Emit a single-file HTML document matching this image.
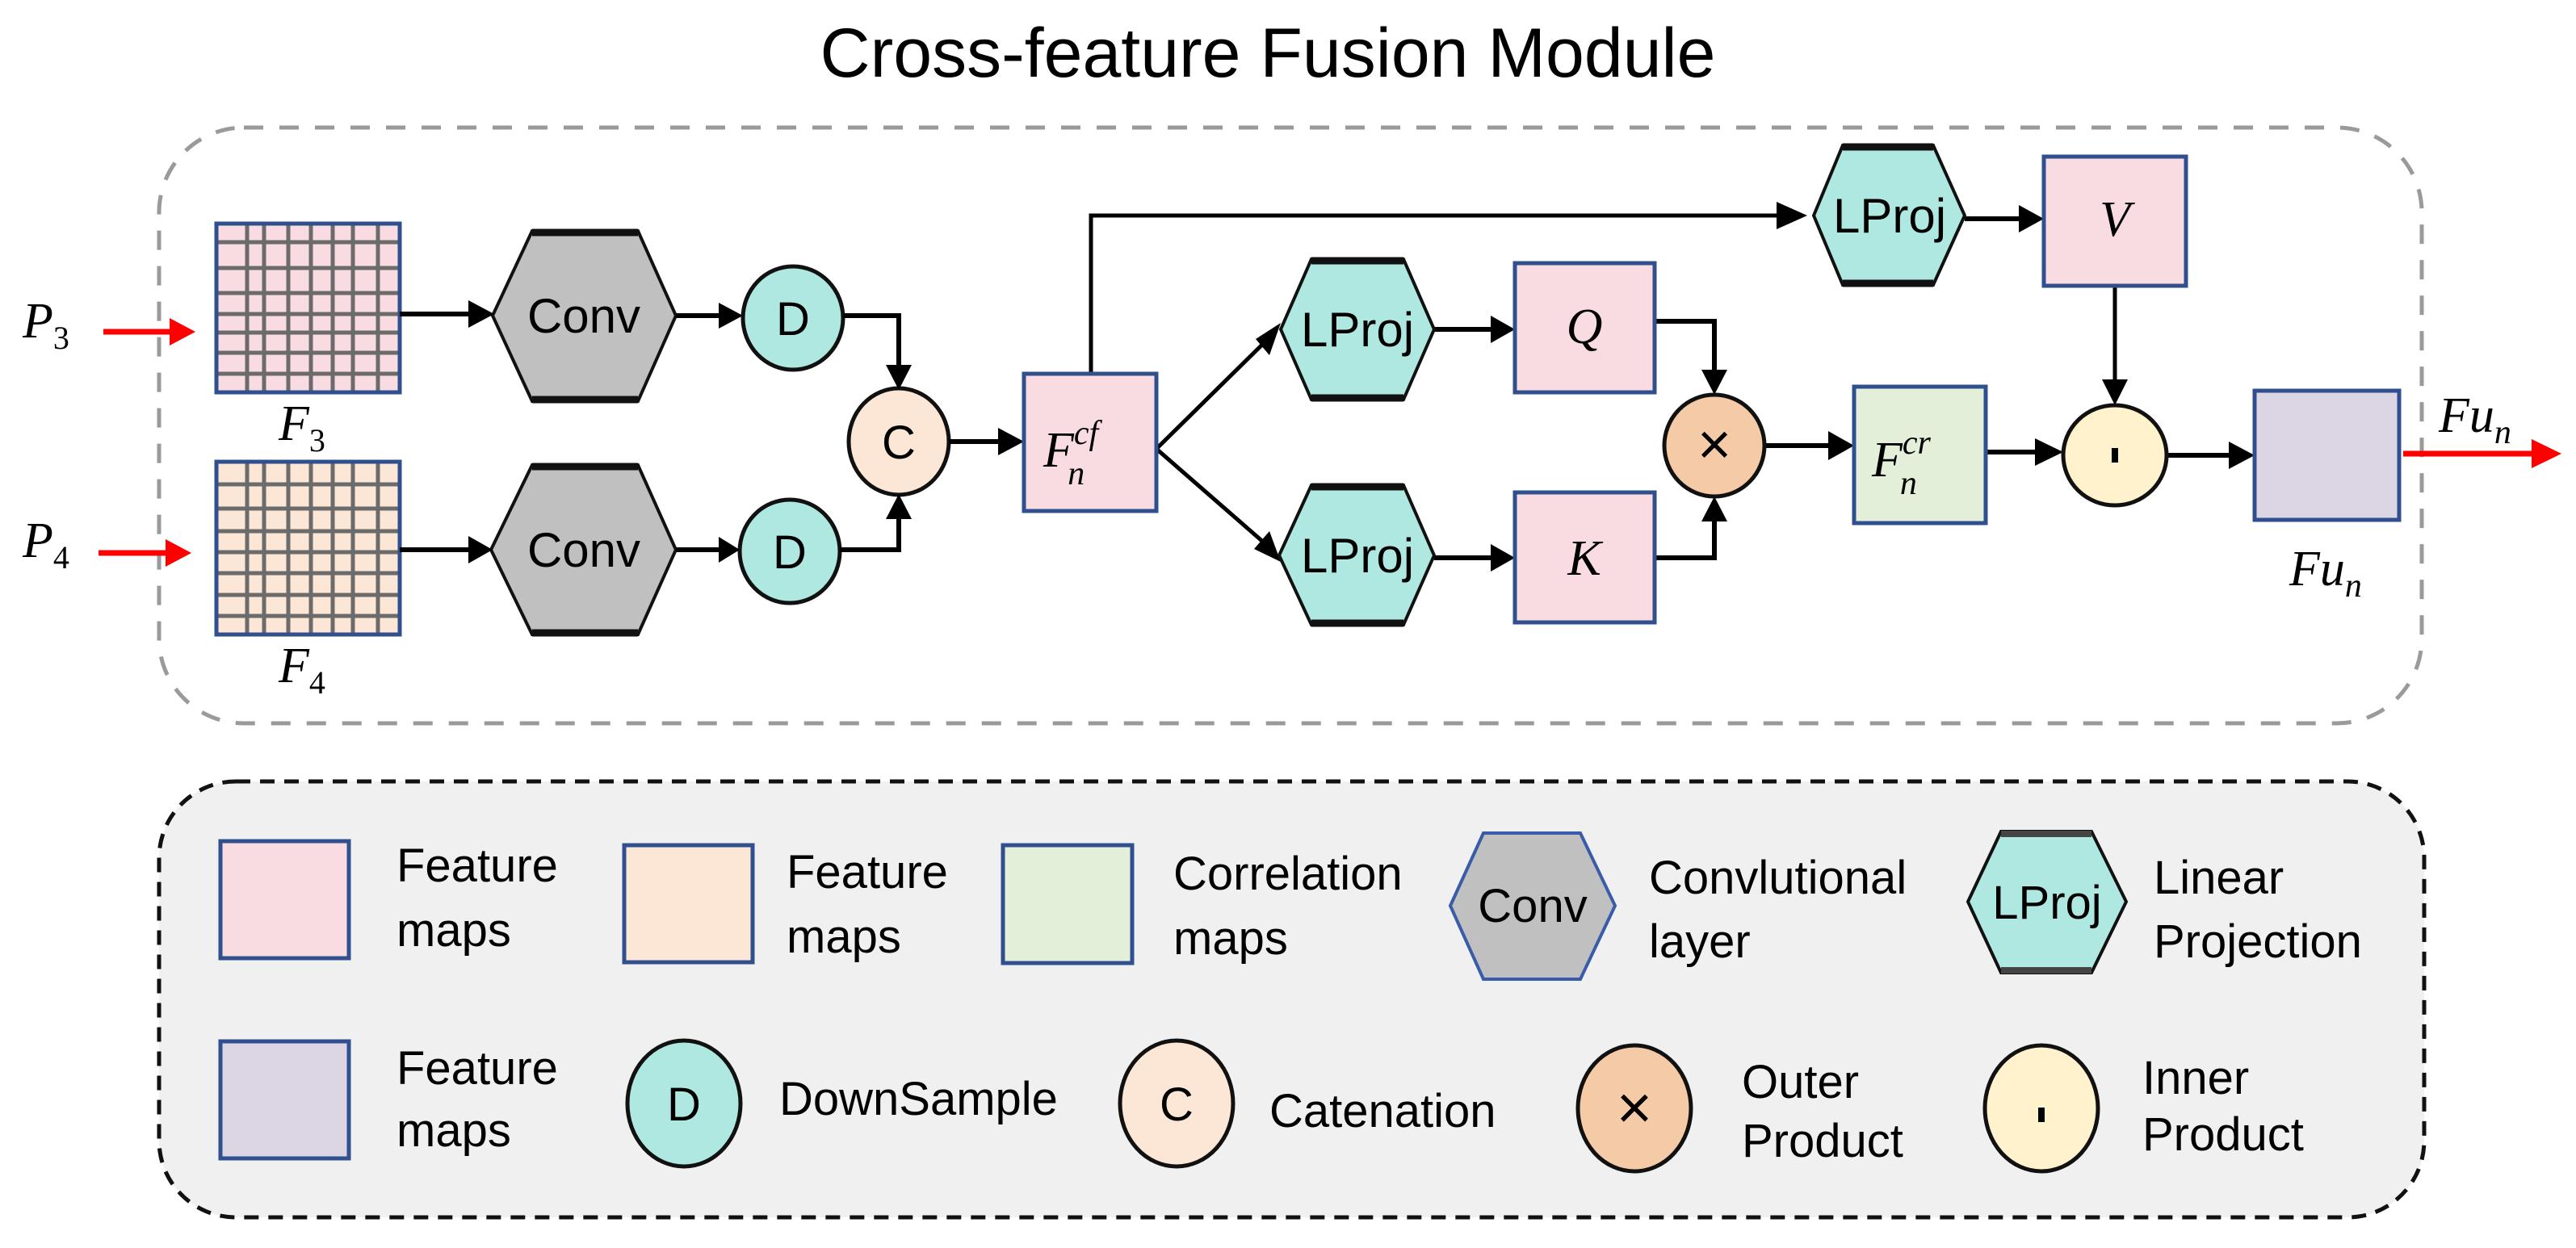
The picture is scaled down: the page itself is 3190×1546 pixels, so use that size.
<!DOCTYPE html>
<html><head><meta charset="utf-8"><style>html,body{margin:0;padding:0;background:#fff}svg{display:block}</style></head>
<body>
<svg width="3190" height="1546" viewBox="0 0 3190 1546" xmlns="http://www.w3.org/2000/svg" font-family="Liberation Sans, sans-serif">

<text x="1570" y="95" font-size="86" text-anchor="middle" fill="#000">Cross-feature Fusion Module</text>

<rect x="197" y="158" width="2802" height="738" rx="105" fill="none" stroke="#9a9a9a" stroke-width="5" stroke-dasharray="24 20"/>
<rect x="197" y="968" width="2805" height="540" rx="95" fill="#f0f0f0" stroke="#111" stroke-width="5" stroke-dasharray="18 12"/>

<g font-family="Liberation Serif, serif" font-style="italic" fill="#000">
<text x="28" y="418" font-size="62">P<tspan font-size="40" dy="14" font-style="normal">3</tspan></text>
<text x="28" y="690" font-size="62">P<tspan font-size="40" dy="14" font-style="normal">4</tspan></text>
</g>
<g stroke="#ff0000" stroke-width="7" fill="#ff0000">
<line x1="128" y1="411" x2="215" y2="411"/><polygon points="210,394 242,411 210,428" stroke="none"/>
<line x1="122" y1="685" x2="210" y2="685"/><polygon points="205,668 237,685 205,702" stroke="none"/>
<line x1="2976" y1="562" x2="3140" y2="562"/><polygon points="3135,544 3172,562 3135,580" stroke="none"/>
</g>

<rect x="268" y="277" width="227" height="209" fill="#f9dce1"/>
<rect x="268" y="572" width="227" height="214" fill="#fce6d6"/>
<g stroke="#6b6b6b" stroke-width="5">
<line x1="306" y1="277" x2="306" y2="486"/><line x1="327" y1="277" x2="327" y2="486"/><line x1="357" y1="277" x2="357" y2="486"/><line x1="385" y1="277" x2="385" y2="486"/><line x1="412" y1="277" x2="412" y2="486"/><line x1="437" y1="277" x2="437" y2="486"/><line x1="468" y1="277" x2="468" y2="486"/>
<line x1="268" y1="300" x2="495" y2="300"/><line x1="268" y1="332" x2="495" y2="332"/><line x1="268" y1="363" x2="495" y2="363"/><line x1="268" y1="389" x2="495" y2="389"/><line x1="268" y1="412" x2="495" y2="412"/><line x1="268" y1="437" x2="495" y2="437"/><line x1="268" y1="463" x2="495" y2="463"/>
<line x1="306" y1="572" x2="306" y2="786"/><line x1="327" y1="572" x2="327" y2="786"/><line x1="357" y1="572" x2="357" y2="786"/><line x1="385" y1="572" x2="385" y2="786"/><line x1="412" y1="572" x2="412" y2="786"/><line x1="437" y1="572" x2="437" y2="786"/><line x1="468" y1="572" x2="468" y2="786"/>
<line x1="268" y1="600" x2="495" y2="600"/><line x1="268" y1="630" x2="495" y2="630"/><line x1="268" y1="658" x2="495" y2="658"/><line x1="268" y1="684" x2="495" y2="684"/><line x1="268" y1="710" x2="495" y2="710"/><line x1="268" y1="737" x2="495" y2="737"/><line x1="268" y1="763" x2="495" y2="763"/>
</g>
<rect x="268" y="277" width="227" height="209" fill="none" stroke="#2f4f8f" stroke-width="5"/>
<rect x="268" y="572" width="227" height="214" fill="none" stroke="#2f4f8f" stroke-width="5"/>
<g font-family="Liberation Serif, serif" font-style="italic" fill="#000">
<text x="345" y="545" font-size="62">F<tspan font-size="40" dy="14" font-style="normal">3</tspan></text>
<text x="345" y="845" font-size="62">F<tspan font-size="40" dy="14" font-style="normal">4</tspan></text>
</g>

<g fill="#c0c0c0" stroke="#111" stroke-width="4">
<polygon points="659,286 790,286 837,391 790,497 659,497 610,391"/>
<polygon points="659,576 790,576 837,681 790,786 659,786 608,681"/>
</g>
<g stroke="#111" stroke-width="9"><line x1="659" y1="288" x2="790" y2="288"/><line x1="659" y1="495" x2="790" y2="495"/><line x1="659" y1="578" x2="790" y2="578"/><line x1="659" y1="784" x2="790" y2="784"/></g>
<g font-size="60" text-anchor="middle" fill="#000"><text x="723" y="412">Conv</text><text x="723" y="702">Conv</text></g>

<g stroke="#111" stroke-width="5"><ellipse cx="982" cy="394" rx="62" ry="64" fill="#aee8e0"/><ellipse cx="978" cy="683" rx="62" ry="64" fill="#aee8e0"/>
<ellipse cx="1113" cy="547" rx="62" ry="66" fill="#fce6d6"/></g>
<g font-size="58" text-anchor="middle" fill="#000"><text x="982" y="415">D</text><text x="978" y="704">D</text><text x="1113" y="568">C</text></g>

<g stroke="#000" stroke-width="6" fill="none">
<line x1="495" y1="389" x2="585" y2="389"/>
<line x1="495" y1="681" x2="585" y2="681"/>
<line x1="837" y1="391" x2="895" y2="391"/>
<line x1="837" y1="681" x2="895" y2="681"/>
<polyline points="1044,391 1113,391 1113,455"/>
<polyline points="1040,681 1113,681 1113,640"/>
<line x1="1175" y1="547" x2="1240" y2="547"/>
<polyline points="1351,463 1351,267 2205,267" stroke-width="5"/>
<line x1="1776" y1="408" x2="1850" y2="408"/>
<line x1="1776" y1="691" x2="1850" y2="691"/>
<line x1="2433" y1="271" x2="2505" y2="271"/>
<polyline points="2049,398 2123,398 2123,462"/>
<polyline points="2049,691 2123,691 2123,642"/>
<line x1="2186" y1="552" x2="2268" y2="552"/>
<line x1="2459" y1="560" x2="2525" y2="560"/>
<line x1="2684" y1="564" x2="2765" y2="564"/>
<line x1="2619" y1="354" x2="2619" y2="475" stroke-width="5"/>
<line x1="1432" y1="556" x2="1565" y2="425" stroke-width="5"/>
<line x1="1432" y1="556" x2="1565" y2="672" stroke-width="5"/>
</g>
<g fill="#000">
<polygon points="580,372 612,389 580,406"/>
<polygon points="580,664 610,681 580,698"/>
<polygon points="890,375 920,391 890,407"/>
<polygon points="890,665 916,681 890,697"/>
<polygon points="1097,452 1129,452 1113,483"/>
<polygon points="1097,643 1129,643 1113,612"/>
<polygon points="1236,530 1268,547 1236,564"/>
<polygon points="2200,250 2238,267 2200,284"/>
<polygon points="1846,391 1876,408 1846,425"/>
<polygon points="1846,674 1876,691 1846,708"/>
<polygon points="2500,254 2531,271 2500,288"/>
<polygon points="2107,458 2139,458 2123,489"/>
<polygon points="2107,646 2139,646 2123,615"/>
<polygon points="2264,534 2296,552 2264,570"/>
<polygon points="2520,543 2555,560 2520,577"/>
<polygon points="2760,547 2792,564 2760,581"/>
<polygon points="2603,470 2635,470 2619,502"/>
<polygon points="1586,400 1572,440 1555,420"/>
<polygon points="1586,696 1553,680 1572,658"/>
</g>

<g stroke="#2f4f8f" stroke-width="5">
<rect x="1268" y="463" width="164" height="170" fill="#f9dce1"/>
<rect x="2531" y="194" width="176" height="160" fill="#f9dce1"/>
<rect x="1876" y="326" width="173" height="160" fill="#f9dce1"/>
<rect x="1876" y="610" width="173" height="161" fill="#f9dce1"/>
<rect x="2296" y="479" width="163" height="169" fill="#e3efd9"/>
<rect x="2792" y="484" width="179" height="160" fill="#dcd6e4"/>
</g>

<g fill="#aee8e0" stroke="#111" stroke-width="4">
<polygon points="2282,180 2394,180 2433,267 2394,353 2282,353 2246,267"/>
<polygon points="1624,321 1738,321 1776,408 1738,495 1624,495 1586,408"/>
<polygon points="1624,601 1738,601 1776,688 1738,774 1624,774 1584,688"/>
</g>
<g stroke="#111" stroke-width="9"><line x1="2282" y1="182" x2="2394" y2="182"/><line x1="2282" y1="351" x2="2394" y2="351"/><line x1="1624" y1="323" x2="1738" y2="323"/><line x1="1624" y1="493" x2="1738" y2="493"/><line x1="1624" y1="603" x2="1738" y2="603"/><line x1="1624" y1="772" x2="1738" y2="772"/></g>
<g font-size="60" text-anchor="middle" fill="#000"><text x="2340" y="288">LProj</text><text x="1681" y="429">LProj</text><text x="1681" y="709">LProj</text></g>

<g stroke="#111" stroke-width="5"><ellipse cx="2123" cy="552" rx="62" ry="63" fill="#f5cba7"/><ellipse cx="2619" cy="564" rx="64" ry="62" fill="#fff2cc"/></g>
<text x="2123" y="575" font-size="72" text-anchor="middle" fill="#000">×</text>
<rect x="2615" y="555" width="8" height="18" fill="#000"/>

<g font-family="Liberation Serif, serif" font-style="italic" fill="#000">
<text x="1292" y="578" font-size="62">F<tspan font-size="42" dy="-28">cf</tspan><tspan font-size="42" dx="-38" dy="50">n</tspan></text>
<text x="2318" y="590" font-size="62">F<tspan font-size="42" dy="-28">cr</tspan><tspan font-size="42" dx="-38" dy="50">n</tspan></text>
<text x="1962" y="425" font-size="62" text-anchor="middle">Q</text>
<text x="1962" y="712" font-size="62" text-anchor="middle">K</text>
<text x="2619" y="292" font-size="62" text-anchor="middle">V</text>
<text x="3020" y="535" font-size="62">Fu<tspan font-size="42" dy="14">n</tspan></text>
<text x="2835" y="725" font-size="62">Fu<tspan font-size="42" dy="14">n</tspan></text>
</g>

<g stroke="#2f4f8f" stroke-width="5">
<rect x="273" y="1042" width="159" height="145" fill="#f9dce1"/>
<rect x="773" y="1047" width="159" height="145" fill="#fce6d6"/>
<rect x="1242" y="1047" width="160" height="146" fill="#e3efd9"/>
<rect x="273" y="1290" width="159" height="145" fill="#dcd6e4"/>
</g>
<polygon points="1837,1032 1957,1032 2000,1122 1957,1213 1837,1213 1796,1122" fill="#c0c0c0" stroke="#3a5ca8" stroke-width="4"/>
<polygon points="2478,1030 2590,1030 2633,1117 2590,1205 2478,1205 2437,1117" fill="#aee8e0" stroke="#111" stroke-width="4"/>
<g stroke="#444" stroke-width="8"><line x1="2478" y1="1033" x2="2590" y2="1033"/><line x1="2478" y1="1202" x2="2590" y2="1202"/></g>
<g stroke="#111" stroke-width="5">
<ellipse cx="847" cy="1367" rx="70" ry="78" fill="#aee8e0"/>
<ellipse cx="1457" cy="1367" rx="70" ry="78" fill="#fce6d6"/>
<ellipse cx="2024" cy="1373" rx="70" ry="78" fill="#f5cba7"/>
<ellipse cx="2528" cy="1373" rx="70" ry="78" fill="#fff2cc"/>
</g>
<rect x="2524" y="1372" width="8" height="18" fill="#000"/>
<g font-size="58" fill="#000">
<text x="1898" y="1142" text-anchor="middle">Conv</text>
<text x="2535" y="1138" text-anchor="middle">LProj</text>
<text x="847" y="1388" text-anchor="middle">D</text>
<text x="1457" y="1388" text-anchor="middle">C</text>
<text x="2024" y="1398" text-anchor="middle" font-size="76">×</text>
<text x="491" y="1092">Feature</text><text x="491" y="1172">maps</text>
<text x="974" y="1100">Feature</text><text x="974" y="1180">maps</text>
<text x="1453" y="1102">Correlation</text><text x="1453" y="1182">maps</text>
<text x="2042" y="1107">Convlutional</text><text x="2042" y="1186">layer</text>
<text x="2667" y="1107">Linear</text><text x="2667" y="1186">Projection</text>
<text x="491" y="1343">Feature</text><text x="491" y="1420">maps</text>
<text x="965" y="1381">DownSample</text>
<text x="1572" y="1396">Catenation</text>
<text x="2157" y="1360">Outer</text><text x="2157" y="1433">Product</text>
<text x="2653" y="1355">Inner</text><text x="2653" y="1425">Product</text>
</g>
</svg>
</body></html>
